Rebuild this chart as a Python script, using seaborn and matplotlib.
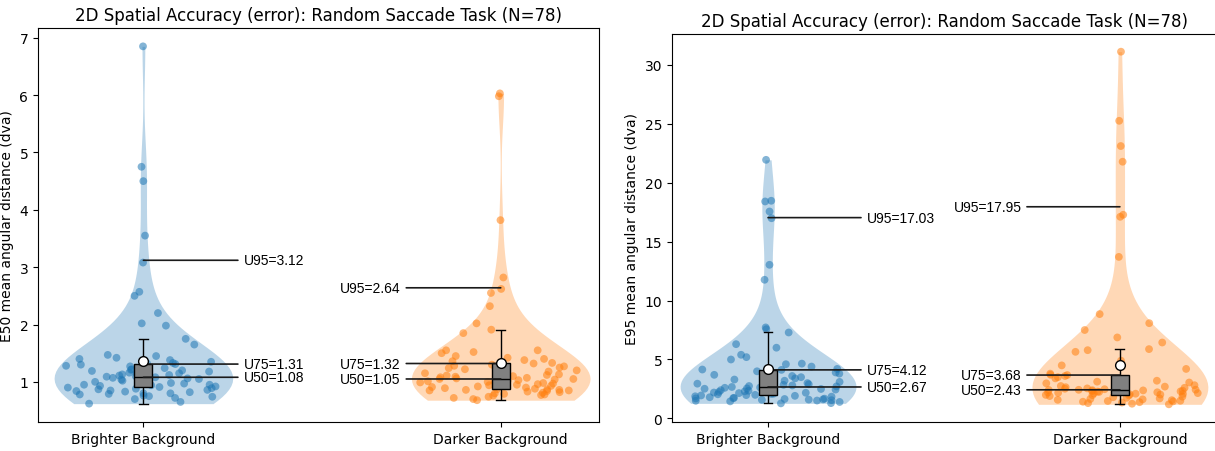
import numpy as np
import pandas as pd
import seaborn as sns
import matplotlib.pyplot as plt

# group names and colours
groups = ["Brighter Background", "Darker Background"]
colors = ["#1f77b4", "#ff7f0e"]

# E50 mean angular error per participant (dva)
e50_brighter = [0.62, 0.65, 0.70, 0.72, 0.74, 0.75, 0.76, 0.78, 0.79, 0.80,
                0.80, 0.82, 0.83, 0.84, 0.85, 0.86, 0.87, 0.88, 0.89, 0.90,
                0.91, 0.92, 0.93, 0.94, 0.95, 0.95, 0.96, 0.97, 0.98, 0.99,
                1.00, 1.01, 1.02, 1.03, 1.04, 1.05, 1.06, 1.07, 1.08,
                1.09, 1.10, 1.11, 1.12, 1.13, 1.14, 1.15, 1.16, 1.18, 1.19,
                1.20, 1.21, 1.22, 1.24, 1.25, 1.27, 1.28, 1.30, 1.31,
                1.32, 1.33, 1.35, 1.38, 1.40, 1.42, 1.45, 1.47, 1.65, 1.75,
                1.98, 2.02, 2.20, 2.50, 2.57, 3.08,
                3.55, 4.50, 4.75, 6.85]
e50_darker = [0.68, 0.70, 0.72, 0.74, 0.76, 0.77, 0.78, 0.79, 0.80, 0.81,
              0.82, 0.83, 0.84, 0.85, 0.85, 0.86, 0.86, 0.87, 0.87, 0.88,
              0.89, 0.90, 0.91, 0.92, 0.93, 0.94, 0.95, 0.96, 0.97, 0.98,
              0.99, 1.00, 1.00, 1.01, 1.02, 1.03, 1.04, 1.05, 1.05,
              1.06, 1.07, 1.08, 1.09, 1.10, 1.11, 1.12, 1.13, 1.15, 1.17,
              1.18, 1.20, 1.22, 1.24, 1.25, 1.27, 1.28, 1.30, 1.32,
              1.33, 1.36, 1.38, 1.40, 1.42, 1.45, 1.50, 1.52, 1.55, 1.55,
              1.85, 1.91, 2.02, 2.32, 2.55, 2.62,
              2.82, 3.82, 5.98, 6.03]

# E95 mean angular error per participant (dva), right panel
e95_brighter = [1.28, 1.30, 1.40, 1.45, 1.50, 1.52, 1.55, 1.58, 1.60, 1.62,
                1.65, 1.68, 1.70, 1.72, 1.75, 1.80, 1.85, 1.88, 1.92, 1.95,
                1.98, 2.00, 2.05, 2.08, 2.10, 2.15, 2.18, 2.20, 2.25, 2.30,
                2.35, 2.40, 2.45, 2.50, 2.52, 2.55, 2.60, 2.63, 2.67,
                2.68, 2.72, 2.75, 2.80, 2.85, 2.90, 2.95, 3.00, 3.10, 3.20,
                3.30, 3.40, 3.50, 3.60, 3.70, 3.80, 3.90, 4.00, 4.12,
                4.15, 4.20, 4.40, 4.60, 4.65, 5.00, 5.20, 5.40, 6.00, 6.30,
                7.29, 7.57, 7.72, 11.76, 13.03, 16.98,
                17.55, 18.40, 18.46, 21.93]
e95_darker = [1.20, 1.25, 1.30, 1.35, 1.38, 1.42, 1.45, 1.48, 1.50, 1.55,
              1.58, 1.62, 1.65, 1.70, 1.75, 1.80, 1.85, 1.90, 1.95, 1.98,
              2.00, 2.03, 2.05, 2.08, 2.10, 2.12, 2.15, 2.18, 2.20, 2.22,
              2.25, 2.28, 2.30, 2.32, 2.35, 2.38, 2.40, 2.42, 2.43,
              2.44, 2.48, 2.52, 2.55, 2.60, 2.65, 2.70, 2.75, 2.82, 2.90,
              2.98, 3.05, 3.12, 3.20, 3.30, 3.40, 3.50, 3.60, 3.68,
              3.70, 3.80, 4.20, 4.50, 4.90, 5.65, 5.79, 5.88, 6.44, 6.87,
              7.50, 8.08, 8.85, 13.70, 17.10, 17.27,
              21.77, 23.10, 25.24, 31.10]

# annotated U-values [brighter, darker]
u50_e50 = [1.08, 1.05]
u75_e50 = [1.31, 1.32]
u95_e50 = [3.12, 2.64]
u50_e95 = [2.67, 2.43]
u75_e95 = [4.12, 3.68]
u95_e95 = [17.03, 17.95]

BW_ADJUST = 1.4


def density_ratio(vals, y):
    # gaussian kde (scott) like the violin, scaled to its max
    v = np.asarray(vals)
    bw = v.std(ddof=1) * len(v) ** (-0.2) * BW_ADJUST
    dens = lambda t: np.exp(-0.5 * ((t[:, None] - v[None, :]) / bw) ** 2).sum(1)
    grid = np.linspace(v.min(), v.max(), 300)
    return dens(np.asarray(y)) / dens(grid).max()


def draw_panel(ax, brighter, darker, u50, u75, u95, ylabel):
    df = pd.DataFrame({"group": [groups[0]] * len(brighter) + [groups[1]] * len(darker),
                       "value": brighter + darker})
    sns.violinplot(data=df, x="group", y="value", hue="group", order=groups,
                   palette=colors, cut=0, inner=None, width=0.5,
                   density_norm="width", bw_adjust=BW_ADJUST, saturation=1,
                   linewidth=0, ax=ax, legend=False)
    for c in ax.collections:
        c.set_alpha(0.3)
    n_before = len(ax.collections)
    sns.stripplot(data=df, x="group", y="value", hue="group", order=groups,
                  palette=colors, jitter=0.23, size=5.6, alpha=0.55,
                  linewidth=0, ax=ax, legend=False)
    # squeeze jitter into the violin outline (sina style)
    for c in ax.collections[n_before:]:
        off = c.get_offsets().copy()
        if len(off) == 0:
            continue
        center = np.round(off[:, 0].mean())
        vals = brighter if center == 0 else darker
        off[:, 0] = center + (off[:, 0] - center) * density_ratio(vals, off[:, 1])
        c.set_offsets(off)
    n_patches, n_lines = len(ax.patches), len(ax.lines)
    sns.boxplot(data=df, x="group", y="value", order=groups, color="grey",
                width=0.05, showfliers=False, saturation=1, linecolor="black",
                linewidth=1, showmeans=True,
                meanprops=dict(marker="o", markerfacecolor="white",
                               markeredgecolor="black", markersize=7,
                               markeredgewidth=1),
                ax=ax)
    # keep the boxes on top of the points
    for p in ax.patches[n_patches:]:
        p.set_zorder(3)
        p.set_facecolor("grey")
    for ln in ax.lines[n_lines:]:
        ln.set_zorder(4)
        if ln.get_marker() == "o":
            ln.set_zorder(7)

    for i in range(2):
        side = 0.28 if i == 0 else -0.28
        for name, v in (("U95", u95[i]), ("U75", u75[i]), ("U50", u50[i])):
            ax.annotate(f"{name}={v:.2f}", xy=(i, v), xytext=(i + side, v),
                        ha="left" if i == 0 else "right", va="center",
                        fontsize=10, family="Liberation Sans",
                        arrowprops=dict(arrowstyle="-", color="#1a1a1a", lw=1.2,
                                        shrinkA=2, shrinkB=0), zorder=6)

    ax.set_xlabel("")
    ax.set_ylabel(ylabel, fontsize=10)
    ax.set_title("2D Spatial Accuracy (error): Random Saccade Task (N=78)",
                 fontsize=12)


np.random.seed(7)
fig = plt.figure(figsize=(12.15, 4.52), dpi=100)
ax1 = fig.add_axes([38 / 1215, 29 / 452, 561 / 1215, 394 / 452])
ax2 = fig.add_axes([672 / 1215, 29 / 452, 545 / 1215, 388 / 452])

draw_panel(ax1, e50_brighter, e50_darker, u50_e50, u75_e50, u95_e50,
           "E50 mean angular distance (dva)")
draw_panel(ax2, e95_brighter, e95_darker, u50_e95, u75_e95, u95_e95,
           "E95 mean angular distance (dva)")

ax1.set_xlim(-0.295, 1.275)
ax2.set_xlim(-0.273, 1.276)
ax1.set_ylim(0.3, 7.17)
ax2.set_ylim(-0.3, 32.6)

fig.savefig("out.png", dpi=100)
